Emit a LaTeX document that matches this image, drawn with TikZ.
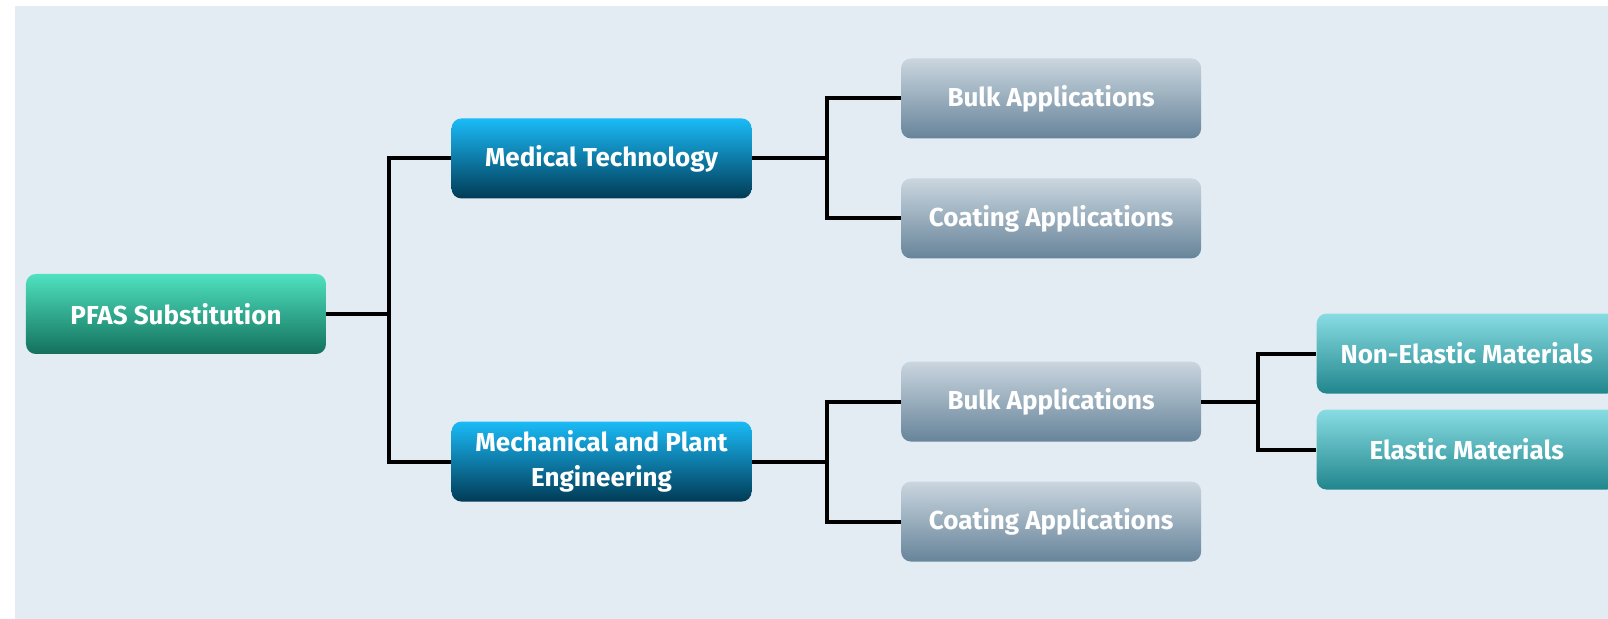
\documentclass[tikz,border=0pt]{standalone}
\usepackage{fontspec}
\setmainfont{Fira Sans}
\usetikzlibrary{positioning}
\definecolor{paneBg}{HTML}{E4ECF3}
\definecolor{rootTop}{HTML}{4FE2C0}
\definecolor{rootMid}{HTML}{2BB996}
\definecolor{rootBot}{HTML}{13705C}
\definecolor{catTop}{HTML}{1ABBF7}
\definecolor{catMid}{HTML}{0A79A8}
\definecolor{catBot}{HTML}{013B56}
\definecolor{subTop}{HTML}{CAD6DF}
\definecolor{subMid}{HTML}{A3B6C4}
\definecolor{subBot}{HTML}{67849A}
\definecolor{leafTop}{HTML}{88DDE3}
\definecolor{leafMid}{HTML}{3BC2CC}
\definecolor{leafBot}{HTML}{20868C}

\begin{document}
\begin{tikzpicture}[font=\fontsize{18.5}{25}\selectfont\bfseries,
      box/.style={rounded corners=7pt, align=center, text=white,
                  minimum width=7.5cm, minimum height=2cm, inner sep=4pt},
      rootbox/.style={box, top color=rootTop, middle color=rootMid, bottom color=rootBot},
      catbox/.style={box, top color=catTop, middle color=catMid, bottom color=catBot},
      subbox/.style={box, top color=subTop, middle color=subMid, bottom color=subBot},
      leafbox/.style={box, top color=leafTop, middle color=leafMid, bottom color=leafBot},
      link/.style={line width=2.8pt, black}]
    \useasboundingbox (-4.4,-7.625) rectangle (35.8,7.85);
    \fill[paneBg] (-4.025,-7.625) rectangle (35.8,7.7);

    \node[rootbox] (root) at (0,0) {PFAS Substitution};
    \node[catbox, above right=1.875cm and 3.125cm of root] (med) {Medical Technology};
    \node[catbox, below right=1.675cm and 3.125cm of root] (mech) {Mechanical and Plant\\Engineering};
    \node[subbox, right=3.725cm of med, yshift=1.5cm] (medbulk) {Bulk Applications};
    \node[subbox, right=3.725cm of med, yshift=-1.5cm] (medcoat) {Coating Applications};
    \node[subbox, right=3.725cm of mech, yshift=1.5cm] (mechbulk) {Bulk Applications};
    \node[subbox, right=3.725cm of mech, yshift=-1.5cm] (mechcoat) {Coating Applications};
    \node[leafbox, right=2.875cm of mechbulk, yshift=1.2cm] (nonel) {Non-Elastic Materials};
    \node[leafbox, right=2.875cm of mechbulk, yshift=-1.2cm] (elast) {Elastic Materials};

    % elbow joints
    \coordinate[xshift=1.575cm] (j0) at (root.east);
    \coordinate[xshift=1.875cm] (j1) at (med.east);
    \coordinate[xshift=1.875cm] (j2) at (mech.east);
    \coordinate[xshift=1.425cm] (j3) at (mechbulk.east);

    \draw[link] (root) -- (j0);
    \draw[link] (j0) |- (med);
    \draw[link] (j0) |- (mech);
    \draw[link] (med) -- (j1);
    \draw[link] (j1) |- (medbulk);
    \draw[link] (j1) |- (medcoat);
    \draw[link] (mech) -- (j2);
    \draw[link] (j2) |- (mechbulk);
    \draw[link] (j2) |- (mechcoat);
    \draw[link] (mechbulk) -- (j3);
    \draw[link] (j3) |- (nonel);
    \draw[link] (j3) |- (elast);
  \end{tikzpicture}
\end{document}
